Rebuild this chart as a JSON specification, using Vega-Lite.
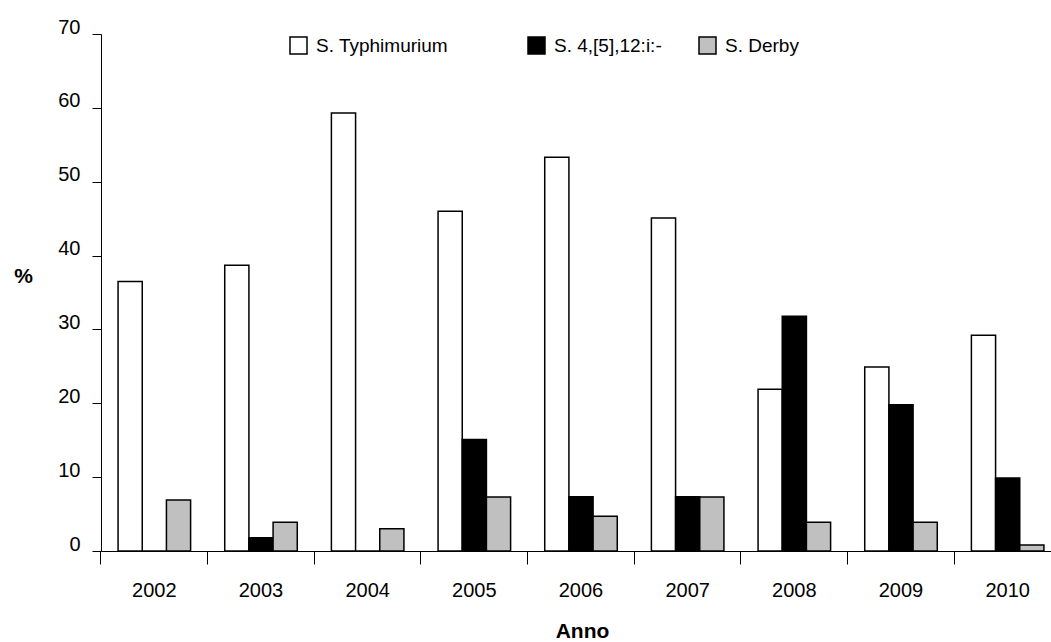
{
  "$schema": "https://vega.github.io/schema/vega-lite/v6.json",
  "width": 950,
  "height": 517,
  "autosize": {"type": "none"},
  "padding": {"left": 101, "top": 34, "right": 0, "bottom": 91},
  "background": "white",
  "config": {
    "view": {"stroke": null},
    "font": "Liberation Sans",
    "axis": {"labelFont": "Liberation Sans", "titleFont": "Liberation Sans", "labelColor": "black", "titleColor": "black", "domainColor": "black", "tickColor": "black", "grid": false}
  },
  "data": {
    "values": [
      {"anno": "2002", "serie": "S. Typhimurium", "pct": 36.5},
      {"anno": "2002", "serie": "S. 4,[5],12:i:-", "pct": 0},
      {"anno": "2002", "serie": "S. Derby", "pct": 6.9},
      {"anno": "2003", "serie": "S. Typhimurium", "pct": 38.7},
      {"anno": "2003", "serie": "S. 4,[5],12:i:-", "pct": 1.8},
      {"anno": "2003", "serie": "S. Derby", "pct": 3.9},
      {"anno": "2004", "serie": "S. Typhimurium", "pct": 59.3},
      {"anno": "2004", "serie": "S. 4,[5],12:i:-", "pct": 0},
      {"anno": "2004", "serie": "S. Derby", "pct": 3.0},
      {"anno": "2005", "serie": "S. Typhimurium", "pct": 46.0},
      {"anno": "2005", "serie": "S. 4,[5],12:i:-", "pct": 15.1},
      {"anno": "2005", "serie": "S. Derby", "pct": 7.3},
      {"anno": "2006", "serie": "S. Typhimurium", "pct": 53.3},
      {"anno": "2006", "serie": "S. 4,[5],12:i:-", "pct": 7.35},
      {"anno": "2006", "serie": "S. Derby", "pct": 4.7},
      {"anno": "2007", "serie": "S. Typhimurium", "pct": 45.1},
      {"anno": "2007", "serie": "S. 4,[5],12:i:-", "pct": 7.35},
      {"anno": "2007", "serie": "S. Derby", "pct": 7.3},
      {"anno": "2008", "serie": "S. Typhimurium", "pct": 21.9},
      {"anno": "2008", "serie": "S. 4,[5],12:i:-", "pct": 31.8},
      {"anno": "2008", "serie": "S. Derby", "pct": 3.9},
      {"anno": "2009", "serie": "S. Typhimurium", "pct": 24.9},
      {"anno": "2009", "serie": "S. 4,[5],12:i:-", "pct": 19.8},
      {"anno": "2009", "serie": "S. Derby", "pct": 3.9},
      {"anno": "2010", "serie": "S. Typhimurium", "pct": 29.2},
      {"anno": "2010", "serie": "S. 4,[5],12:i:-", "pct": 9.9},
      {"anno": "2010", "serie": "S. Derby", "pct": 0.8}
    ]
  },
  "mark": {"type": "bar", "stroke": "black", "strokeWidth": 1.5},
  "encoding": {
    "x": {
      "field": "anno",
      "type": "nominal",
      "scale": {"range": [0, 960], "paddingInner": 0.32, "paddingOuter": 0.16},
      "axis": {
        "title": "Anno",
        "titleFontSize": 21,
        "titleFontWeight": "bold",
        "titleBaseline": "alphabetic",
        "titleY": 86,
        "titleX": 481,
        "labelAngle": 0,
        "labelFontSize": 20,
        "labelBaseline": "alphabetic",
        "labelPadding": 32,
        "labelOffset": 0,
        "tickSize": 13,
        "bandPosition": -0.2353,
        "domainWidth": 1,
        "tickWidth": 1
      }
    },
    "xOffset": {
      "field": "serie",
      "type": "nominal",
      "sort": ["S. Typhimurium", "S. 4,[5],12:i:-", "S. Derby"],
      "scale": {"paddingInner": 0, "paddingOuter": 0}
    },
    "y": {
      "field": "pct",
      "type": "quantitative",
      "scale": {"domain": [0, 70], "nice": false},
      "axis": {
        "title": "%",
        "titleAngle": 0,
        "titleFontSize": 21,
        "titleFontWeight": "bold",
        "titleAlign": "center",
        "titleBaseline": "middle",
        "titleX": -78,
        "titleY": 242,
        "values": [0, 10, 20, 30, 40, 50, 60, 70],
        "labelFontSize": 20,
        "labelBaseline": "alphabetic",
        "labelOffset": -1,
        "labelPadding": 12,
        "tickSize": 9,
        "domainWidth": 1,
        "tickWidth": 1
      }
    },
    "fill": {
      "field": "serie",
      "type": "nominal",
      "scale": {
        "domain": ["S. Typhimurium", "S. 4,[5],12:i:-", "S. Derby"],
        "range": ["white", "black", "#c0c0c0"]
      },
      "legend": {
        "title": null,
        "orient": "none",
        "direction": "horizontal",
        "legendX": 188,
        "legendY": 2,
        "padding": 0,
        "symbolType": "square",
        "symbolSize": 289,
        "symbolStrokeColor": "black",
        "symbolStrokeWidth": 1.5,
        "symbolOpacity": 1,
        "labelFontSize": 19,
        "labelFont": "Liberation Sans",
        "labelColor": "black",
        "labelOffset": 8,
        "columnPadding": 34,
        "labelLimit": 400,
        "labelExpr": "datum.label == 'S. Typhimurium' ? datum.label + '\u00a0\u00a0\u00a0\u00a0\u00a0\u00a0\u00a0\u00a0\u200b' : datum.label"
      }
    }
  }
}
